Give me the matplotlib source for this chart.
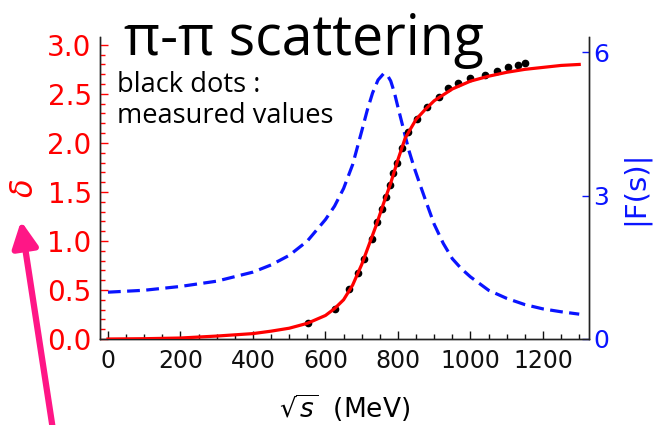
import matplotlib
matplotlib.use("Agg")
import matplotlib.pyplot as plt
from matplotlib.ticker import MultipleLocator, FormatStrFormatter

# phase shift fit (red), sqrt(s) in MeV
fit_energy = [0, 100, 200, 300, 400, 450, 500, 550, 600, 625, 650, 675, 700, 720,
              740, 760, 780, 800, 820, 850, 875, 900, 950, 1000, 1050, 1100,
              1150, 1200, 1250, 1300]
fit_delta = [0.0, 0.003, 0.01, 0.03, 0.055, 0.08, 0.11, 0.16, 0.24, 0.31, 0.40,
             0.55, 0.76, 0.96, 1.16, 1.38, 1.59, 1.83, 2.05, 2.24, 2.34, 2.43,
             2.55, 2.63, 2.68, 2.72, 2.75, 2.77, 2.79, 2.80]

# form factor magnitude |F(s)| (blue, right axis)
ff_energy = [0, 100, 200, 300, 400, 450, 500, 550, 600, 625, 650, 675, 700, 715,
             730, 745, 760, 770, 780, 790, 800, 815, 830, 845, 860, 880, 900,
             925, 950, 975, 1000, 1050, 1100, 1150, 1200, 1250, 1300]
ff_value = [0.98, 1.02, 1.10, 1.21, 1.40, 1.55, 1.75, 2.05, 2.50, 2.78, 3.15,
            3.65, 4.35, 4.78, 5.15, 5.42, 5.55, 5.53, 5.40, 5.16, 4.85, 4.40,
            3.95, 3.58, 3.25, 2.82, 2.40, 2.00, 1.68, 1.47, 1.30, 1.02, 0.85,
            0.72, 0.63, 0.57, 0.52]

# measured phase shifts (black dots)
data_energy = [553, 626, 666, 691, 707, 727, 743, 755, 767, 778, 787, 796, 810,
               827, 852, 879, 914, 939, 966, 999, 1040, 1072, 1104, 1132, 1150]
data_delta = [0.16, 0.31, 0.51, 0.67, 0.82, 1.02, 1.19, 1.33, 1.45, 1.57, 1.69,
              1.79, 1.95, 2.11, 2.24, 2.37, 2.47, 2.56, 2.61, 2.66, 2.69, 2.73,
              2.77, 2.79, 2.81]

x_ticks = [0, 200, 400, 600, 800, 1000, 1200]
right_ticks = [0, 3, 6]

RED = "#ff0000"
BLUE = "#0a14ff"
PINK = "#ff1686"
TEXT_FONT = ["Open Sans", "DejaVu Sans"]

plt.rcParams["font.family"] = ["DejaVu Sans"]
plt.rcParams["mathtext.fontset"] = "dejavusans"

fig = plt.figure(figsize=(6.56, 4.25), dpi=100)
ax = fig.add_axes([100 / 656, 86 / 425, 489 / 656, 302 / 425])
ax2 = ax.twinx()

ax2.plot(ff_energy, ff_value, color=BLUE, lw=2.3, dashes=(4, 2))
ax.plot(data_energy, data_delta, "o", color="black", ms=4.5, zorder=2)
ax.plot(fit_energy, fit_delta, color=RED, lw=2.3, zorder=3)

# keep the red curve above the dashed one
ax.set_zorder(ax2.get_zorder() + 1)
ax.patch.set_visible(False)

ax.set_xlim(-22, 1327)
ax.set_ylim(0, 3.08)
ax2.set_ylim(0, 6.32)

for a in (ax, ax2):
    a.spines["top"].set_visible(False)
    for s in ("left", "right", "bottom"):
        a.spines[s].set_color("#222222")
        a.spines[s].set_linewidth(1.0)

ax.set_xticks(x_ticks)
ax.xaxis.set_minor_locator(MultipleLocator(50))
ax.yaxis.set_major_locator(MultipleLocator(0.5))
ax.yaxis.set_minor_locator(MultipleLocator(0.1))
ax.yaxis.set_major_formatter(FormatStrFormatter("%.1f"))

ax.tick_params(axis="x", which="major", direction="in", length=6, width=1,
               labelsize=17, pad=7, colors="#111111")
ax.tick_params(axis="x", which="minor", direction="in", length=3.5, width=1,
               colors="#111111")
ax.tick_params(axis="y", which="major", direction="in", length=6, width=1,
               labelsize=20, pad=6, colors=RED)
ax.tick_params(axis="y", which="minor", direction="in", length=3.5, width=1,
               colors=RED)

ax2.set_yticks(right_ticks)
ax2.tick_params(axis="y", direction="in", length=5, width=1, labelsize=18,
                pad=3, colors=BLUE)

ax.set_xlabel(r"$\sqrt{s}$  (MeV)", fontsize=19, labelpad=14)
ax.set_ylabel(r"$\delta$", fontsize=22, color=RED, labelpad=6)
ax2.set_ylabel("|F(s)|", fontsize=21, color=BLUE, labelpad=8)

fig.text(304 / 656, 1 - 55 / 425, "\u03c0-\u03c0 scattering", ha="center",
         va="baseline", fontsize=40, family=TEXT_FONT)
fig.text(117 / 656, 1 - 92 / 425, "black dots :", ha="left", va="baseline",
         fontsize=19.6, family=TEXT_FONT)
fig.text(117 / 656, 1 - 123 / 425, "measured values", ha="left", va="baseline",
         fontsize=19.6, family=TEXT_FONT)

# arrow pointing up at the phase-shift axis label
ax.annotate("", xy=(21, 204), xycoords="figure pixels",
            xytext=(53, -5), textcoords="figure pixels",
            arrowprops=dict(arrowstyle="-|>,head_length=0.7,head_width=0.35",
                            color=PINK, lw=4.5, mutation_scale=22,
                            shrinkA=0, shrinkB=0),
            annotation_clip=False)

fig.savefig("out.png", dpi=100)
